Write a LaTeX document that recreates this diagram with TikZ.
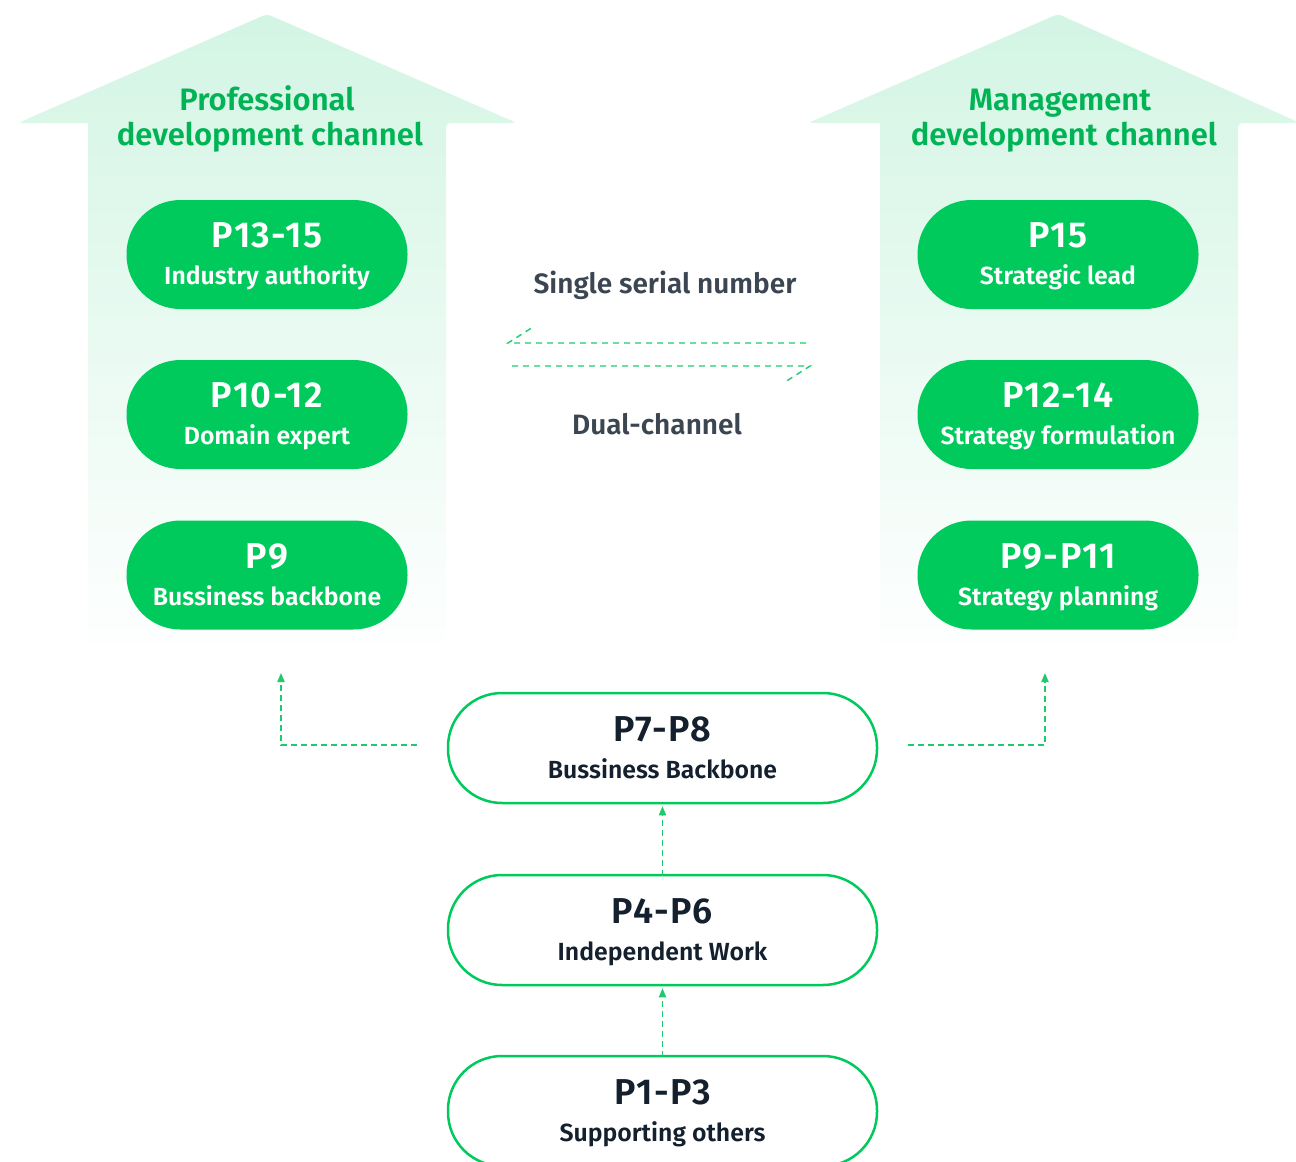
\documentclass[tikz,border=0pt]{standalone}
\usepackage{fontspec}
\setmainfont{Fira Sans}[BoldFont={Fira Sans SemiBold}]
\newfontfamily\widefont{Fira Sans}[BoldFont={Fira Sans SemiBold}, LetterSpace=4]
\usetikzlibrary{arrows.meta}
\definecolor{pgreen}{HTML}{00CA5C}
\definecolor{tgreen}{HTML}{00B456}
\definecolor{mint}{HTML}{D3F5E4}
\definecolor{darktxt}{HTML}{14202E}
\definecolor{midtxt}{HTML}{3B4652}
\definecolor{dashgreen}{HTML}{1ECB6C}
\newcommand{\pilltext}[4]{%
  \node[anchor=base, font=\widefont\fontsize{18}{21}\selectfont\bfseries, text=#4] at ([yshift=3.5pt]#1.center) {#2};
  \node[anchor=base, font=\fontsize{12.4}{14}\selectfont\bfseries, text=#4] at ([yshift=-15pt]#1.center) {#3};}
\begin{document}
\begin{tikzpicture}[x=0.5pt,y=-0.5pt,
  gpill/.style={fill=pgreen, rounded corners=27pt, minimum width=140.5pt, minimum height=54.5pt, inner sep=0pt},
  wpill/.style={draw=pgreen, line width=1.25pt, fill=white, rounded corners=27pt, minimum width=214.5pt, minimum height=55pt, inner sep=0pt},
  conn/.style={dashgreen, line width=0.7pt, dash pattern=on 3pt off 2pt},
  tip/.style={-{Triangle[length=4.5pt,width=3.6pt]}},
  chtitle/.style={anchor=base, text=tgreen, font=\fontsize{15.5}{18}\selectfont\bfseries},
  midlabel/.style={anchor=base, text=midtxt, font=\fontsize{14}{16}\selectfont\bfseries}]
\useasboundingbox (0,0) rectangle (1296,1162);
% channel arrows
\shade[top color=mint, bottom color=white, rounded corners=2pt]
  (18,123) -- (267,14) -- (517,123) -- (446,123) [sharp corners] -- (446,664) -- (88,664) -- (88,123) [rounded corners=2pt] -- cycle;
\shade[top color=mint, bottom color=white, rounded corners=2pt]
  (808,123) -- (1058,14) -- (1300,123) -- (1238,123) [sharp corners] -- (1238,664) -- (880,664) -- (880,123) [rounded corners=2pt] -- cycle;
\node[chtitle] (tl1) at (267,110) {Professional};
\node[chtitle] (tl2) at (270,145) {development channel};
\node[chtitle] (tr1) at (1060,110) {Management};
\node[chtitle] (tr2) at (1064,145) {development channel};
% green pills
\node[gpill] (a1) at (267,254.5) {};
\node[gpill] (a2) at (267,414.5) {};
\node[gpill] (a3) at (267,575) {};
\node[gpill] (b1) at (1058,254.5) {};
\node[gpill] (b2) at (1058,414.5) {};
\node[gpill] (b3) at (1058,575) {};
\pilltext{a1}{P13-15}{Industry authority}{white}
\pilltext{a2}{P10-12}{Domain expert}{white}
\pilltext{a3}{P9}{Bussiness backbone}{white}
\pilltext{b1}{P15}{Strategic lead}{white}
\pilltext{b2}{P12-14}{Strategy formulation}{white}
\pilltext{b3}{P9-P11}{Strategy planning}{white}
% white pills
\node[wpill] (c1) at (662.5,748) {};
\node[wpill] (c2) at (662.5,930) {};
\node[wpill] (c3) at (662.5,1111) {};
\pilltext{c1}{P7-P8}{Bussiness Backbone}{darktxt}
\pilltext{c2}{P4-P6}{Independent Work}{darktxt}
\pilltext{c3}{P1-P3}{Supporting others}{darktxt}
% middle labels
\node[midlabel] (s1) at (665,293) {Single serial number};
\node[midlabel] (s2) at (657,434) {Dual-channel};
% dual arrows
\coordinate (h1s) at (806,343);
\coordinate (h1e) at (508,343);
\coordinate (h1b) at (533,327);
\coordinate (h2s) at (512,366);
\coordinate (h2e) at (810,366);
\coordinate (h2b) at (785,382);
\draw[conn, dash pattern=on 3pt off 2.5pt] (h1s) -- (h1e) -- (h1b);
\draw[conn, dash pattern=on 3pt off 2.5pt] (h2s) -- (h2e) -- (h2b);
% connectors
\coordinate (la) at (281,673);
\coordinate (ra) at (1045,673);
\draw[conn, tip] ([xshift=-15pt,yshift=1.5pt]c1.west) -| (la);
\draw[conn, tip] ([xshift=15pt,yshift=1.5pt]c1.east) -| (ra);
\draw[conn, tip] ([yshift=-1pt]c2.north) -- ([yshift=-1pt]c1.south);
\draw[conn, tip] ([yshift=-1pt]c3.north) -- ([yshift=-1pt]c2.south);
\end{tikzpicture}
\end{document}
